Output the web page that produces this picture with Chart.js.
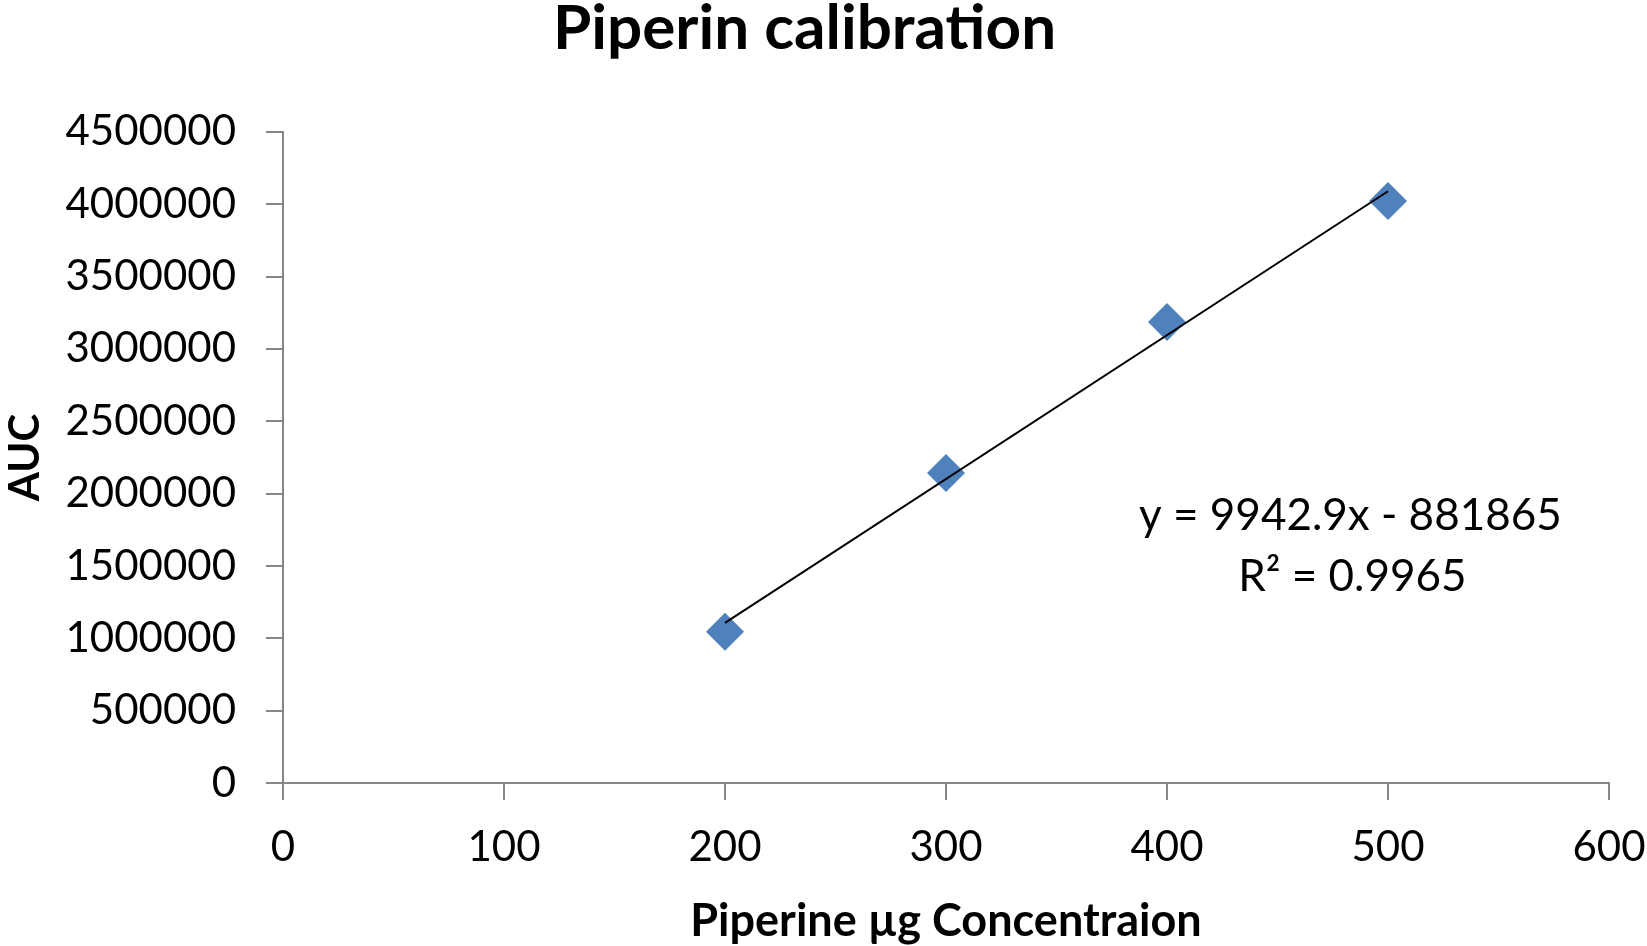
<!DOCTYPE html>
<html>
<head>
<meta charset="utf-8">
<title>Piperin calibration</title>
<script src="https://cdn.jsdelivr.net/npm/chart.js@4/dist/chart.umd.min.js"></script>
<style>
  html, body { margin: 0; padding: 0; background: #fff; }
  #wrap { width: 1647px; height: 946px; position: relative; }
</style>
</head>
<body>
<div id="wrap"><canvas id="chart"></canvas></div>
<script>
// data
var concentrations = [200, 300, 400, 500];
var auc = [1045000, 2143000, 3187000, 4023000];
var xTicks = [0, 100, 200, 300, 400, 500, 600];
var yTicks = [0, 500000, 1000000, 1500000, 2000000, 2500000, 3000000, 3500000, 4000000, 4500000];

// trendline as printed on the chart
var slope = 9942.9;
var intercept = -881865;
var fitRange = [200, 500];
var eqLines = ["y = 9942.9x - 881865", "R\u00b2 = 0.9965"];

var axisGrey = "#868686";
var markerBlue = "#4f81bd";

var trend = fitRange.map(function (x) {
  return { x: x, y: slope * x + intercept };
});

// equation text next to the fit line
var equationLabel = {
  id: "equationLabel",
  afterDatasetsDraw: function (chart) {
    var ctx = chart.ctx;
    var cx = chart.scales.x.getPixelForValue(483);
    var cy = chart.scales.y.getPixelForValue(1750000);
    ctx.save();
    ctx.fillStyle = "#000";
    ctx.font = "44px Lato";
    ctx.textAlign = "center";
    ctx.textBaseline = "alphabetic";
    ctx.fillText(eqLines[0], cx, cy);
    ctx.fillText(eqLines[1], cx + 2, cy + 61);
    ctx.restore();
  }
};

var ctx = document.getElementById("chart");
var myChart = new Chart(ctx, {
  type: "scatter",
  data: {
    datasets: [
      {
        label: "Piperine",
        data: concentrations.map(function (c, i) { return { x: c, y: auc[i] }; }),
        backgroundColor: markerBlue,
        borderWidth: 0,
        pointStyle: "rectRot",
        pointRadius: 19,
        pointHoverRadius: 19,
        order: 2
      },
      {
        label: "Linear fit",
        data: trend,
        showLine: true,
        borderColor: "#000",
        borderWidth: 2,
        pointRadius: 0,
        order: 1
      }
    ]
  },
  options: {
    responsive: true,
    maintainAspectRatio: false,
    animation: false,
    layout: { padding: { top: 0, right: 38, left: 0, bottom: 0 } },
    plugins: {
      legend: { display: false },
      tooltip: { enabled: false },
      title: {
        display: true,
        text: "Piperin calibration",
        color: "#000",
        font: { family: "Lato", size: 62, weight: "bold", lineHeight: 0.95 },
        padding: { top: 0, bottom: 73 }
      }
    },
    scales: {
      x: {
        type: "linear",
        min: xTicks[0],
        max: xTicks[xTicks.length - 1],
        afterBuildTicks: function (s) { s.ticks = xTicks.map(function (v) { return { value: v }; }); },
        afterFit: function (s) { s.height = 163; s.paddingLeft = 0; s.paddingRight = 0; },
        ticks: {
          color: "#000",
          padding: 22,
          maxRotation: 0,
          font: { family: "Lato", size: 42 }
        },
        grid: { drawOnChartArea: false, drawTicks: true, tickLength: 17, color: axisGrey, lineWidth: 2 },
        border: { color: axisGrey, width: 2 },
        title: {
          display: true,
          text: "Piperine \u00b5g Concentraion",
          color: "#000",
          font: { family: "Lato", size: 45, weight: "bold", lineHeight: 1.1 },
          padding: { top: 0, bottom: 0 }
        }
      },
      y: {
        type: "linear",
        min: yTicks[0],
        max: yTicks[yTicks.length - 1],
        afterBuildTicks: function (s) { s.ticks = yTicks.map(function (v) { return { value: v }; }); },
        afterFit: function (s) { s.width = 283; s.paddingTop = 0; s.paddingBottom = 0; },
        ticks: {
          color: "#000",
          padding: 30,
          font: { family: "Lato", size: 42 },
          callback: function (v) { return String(v); }
        },
        grid: { drawOnChartArea: false, drawTicks: true, tickLength: 17, color: axisGrey, lineWidth: 2 },
        border: { color: axisGrey, width: 2 },
        title: {
          display: true,
          text: "AUC",
          color: "#000",
          font: { family: "Lato", size: 42, weight: "bold" },
          padding: { top: 0, bottom: 0 }
        }
      }
    }
  },
  plugins: [equationLabel]
});
</script>
</body>
</html>
